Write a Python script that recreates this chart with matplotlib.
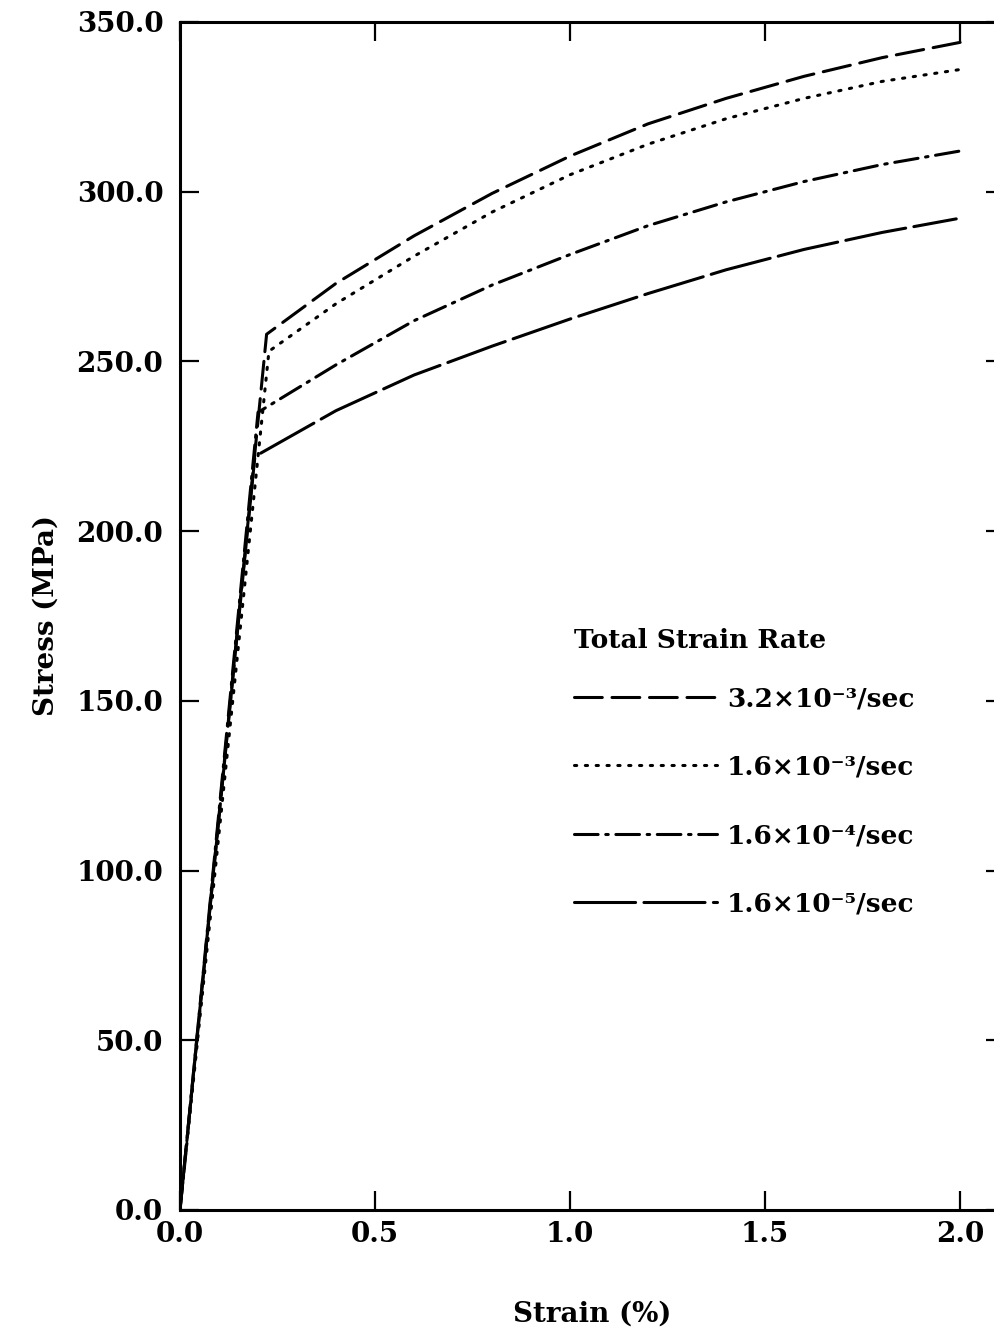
import matplotlib
matplotlib.use("Agg")
import matplotlib.pyplot as plt

# ---- data ----
strain_32e3 = [0.0, 0.222, 0.4, 0.6, 0.8, 1.0, 1.2, 1.4, 1.6, 1.8, 2.0]
stress_32e3 = [0.0, 258, 273, 287, 299.5, 310.5, 320, 327.5, 334, 339.5, 344]

strain_16e3 = [0.0, 0.228, 0.4, 0.6, 0.8, 1.0, 1.2, 1.4, 1.6, 1.8, 2.0]
stress_16e3 = [0.0, 253, 267, 281, 294, 305, 314, 321.5, 327.5, 332.5, 336]

strain_16e4 = [0.0, 0.200, 0.4, 0.6, 0.8, 1.0, 1.2, 1.4, 1.6, 1.8, 2.0]
stress_16e4 = [0.0, 235, 249, 262, 272.5, 281.5, 290, 297, 303, 308, 312]

strain_16e5 = [0.0, 0.192, 0.4, 0.6, 0.8, 1.0, 1.2, 1.4, 1.6, 1.8, 1.99]
stress_16e5 = [0.0, 222, 235.5, 246, 254.5, 262.5, 270, 277, 283, 288, 292]

labels = ["3.2×10⁻³/sec", "1.6×10⁻³/sec", "1.6×10⁻⁴/sec", "1.6×10⁻⁵/sec"]
xticks = [0.0, 0.5, 1.0, 1.5, 2.0]
yticks = [0, 50, 100, 150, 200, 250, 300, 350]

plt.rcParams['font.family'] = ['DejaVu Serif']
plt.rcParams['font.weight'] = 'bold'
plt.rcParams['lines.scale_dashes'] = False

fig = plt.figure(figsize=(9.95, 13.35), dpi=100)
ax = fig.add_axes([180/995, 1 - 1210/1335, (1005 - 180)/995, (1210 - 22)/1335])

lw = 2.2
series = [
    (strain_32e3, stress_32e3, (0, (20, 7))),
    (strain_16e3, stress_16e3, (0, (1.6, 6.2))),
    (strain_16e4, stress_16e4, (0, (17, 5.5, 1.8, 5.5))),
    (strain_16e5, stress_16e5, (0, (44, 6))),
]
for (xs, ys, ls), lab in zip(series, labels):
    ax.plot(xs, ys, color='black', lw=lw, linestyle=ls, label=lab,
            dash_capstyle='round', solid_capstyle='round')

ax.set_xlim(0, 2.115)
ax.set_ylim(0, 350)
ax.set_xticks(xticks)
ax.set_xticklabels([f"{v:.1f}" for v in xticks])
ax.set_yticks(yticks)
ax.set_yticklabels([f"{v:.1f}" for v in yticks])

for s in ax.spines.values():
    s.set_linewidth(2.2)
ax.tick_params(direction='in', length=14, width=1.6, top=True, right=True,
               labelsize=20, pad=8)
ax.tick_params(axis='y', pad=12)

ax.set_xlabel("Strain (%)", fontsize=20, fontweight='bold', labelpad=38)
ax.set_ylabel("Stress (MPa)", fontsize=20, fontweight='bold', labelpad=12)

leg = ax.legend(loc='upper left', bbox_to_anchor=(0.465, 0.499), frameon=False,
                fontsize=19, handlelength=5.4, handletextpad=0.4,
                labelspacing=1.65, title="Total Strain Rate",
                title_fontproperties={'size': 19, 'weight': 'bold'},
                alignment='left', borderaxespad=0)
leg._legend_box.sep = 24

fig.savefig("out.png", dpi=100)
